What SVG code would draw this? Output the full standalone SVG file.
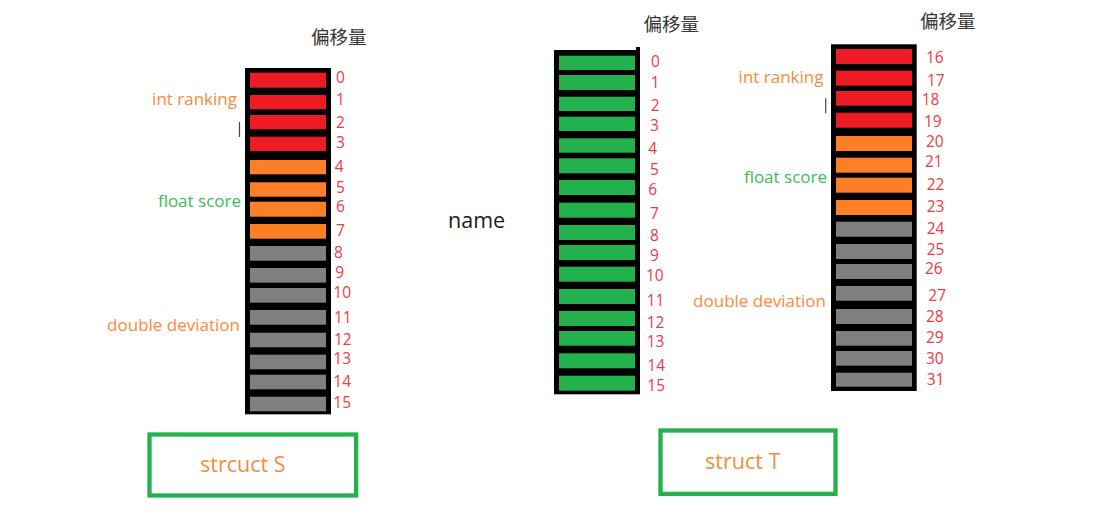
<svg xmlns="http://www.w3.org/2000/svg" width="1112" height="515" viewBox="0 0 1112 515">
<style>
.frame{fill:#000}
.red{fill:#ed1c24}
.org{fill:#ff7f27}
.gry{fill:#7f7f7f}
.grn{fill:#22b14c}
.num{font-family:"Open Sans","Liberation Sans",sans-serif;font-size:15.5px;fill:#ee3a43}
.cap{font-family:"Noto Sans CJK SC","Noto Sans",sans-serif;font-size:18.5px;fill:#333}
.lo{font-family:"Open Sans","Liberation Sans",sans-serif;font-size:17px;fill:#fb8a3c;text-anchor:end}
.lg{font-family:"Open Sans","Liberation Sans",sans-serif;font-size:17px;fill:#3dba5c;text-anchor:end}
.box{fill:#fff;stroke:#22b14c;stroke-width:4.3}
.bt{font-family:"Open Sans","Liberation Sans",sans-serif;font-size:21.5px;fill:#fb8a3c}
.tick{stroke:#444;stroke-width:1.2}
</style>
<rect width="1112" height="515" fill="#fff"/>
<g id="connectors"></g>

<g id="structS-column">
<rect class="frame" x="245" y="68" width="86" height="346.3"/>
<rect class="red" x="250" y="72.7" width="76" height="15"/>
<rect class="red" x="250" y="95" width="76" height="14.3"/>
<rect class="red" x="250" y="115" width="76" height="14.3"/>
<rect class="red" x="250" y="136.7" width="76" height="14.3"/>
<rect class="org" x="250" y="160" width="76" height="14.3"/>
<rect class="org" x="250" y="182.3" width="76" height="14.4"/>
<rect class="org" x="250" y="201.7" width="76" height="15"/>
<rect class="org" x="250" y="224" width="76" height="14.7"/>
<rect class="gry" x="250" y="246" width="76" height="14.7"/>
<rect class="gry" x="250" y="268" width="76" height="14.7"/>
<rect class="gry" x="250" y="288" width="76" height="14.7"/>
<rect class="gry" x="250" y="310" width="76" height="14.7"/>
<rect class="gry" x="250" y="332.7" width="76" height="14.6"/>
<rect class="gry" x="250" y="354.7" width="76" height="14.6"/>
<rect class="gry" x="250" y="374.7" width="76" height="14.6"/>
<rect class="gry" x="250" y="396.7" width="76" height="14.6"/>
</g>
<g id="structS-offsets">
<text class="cap" x="311" y="44">偏移量</text>
<text class="num" x="336" y="83.3">0</text>
<text class="num" x="336" y="105">1</text>
<text class="num" x="336" y="128.3">2</text>
<text class="num" x="336" y="148.3">3</text>
<text class="num" x="334.7" y="171.7">4</text>
<text class="num" x="336" y="193.3">5</text>
<text class="num" x="336" y="211.7">6</text>
<text class="num" x="336" y="236">7</text>
<text class="num" x="334" y="258.3">8</text>
<text class="num" x="335.3" y="278.3">9</text>
<text class="num" x="333.3" y="298.3">10</text>
<text class="num" x="334" y="322.7">11</text>
<text class="num" x="334" y="345">12</text>
<text class="num" x="333.3" y="364">13</text>
<text class="num" x="333.3" y="387.3">14</text>
<text class="num" x="333.3" y="408.3">15</text>
</g>
<g id="structS-labels">
<text class="lo" x="237" y="105">int ranking</text>
<line class="tick" x1="239.5" y1="122" x2="239.5" y2="137"/>
<text class="lg" x="241" y="207">float score</text>
<text class="lo" x="240" y="331">double deviation</text>
</g>
<g id="structS-box">
<rect class="box" x="149.5" y="434.5" width="206.6" height="61"/>
<text class="bt" x="200" y="471.7">strcuct S</text>
</g>

<g id="name-column">
<rect class="frame" x="554" y="50" width="86" height="344.3"/>
<rect class="frame" x="636" y="47" width="4" height="5"/>
<rect class="grn" x="559" y="55.7" width="76" height="14.3"/>
<rect class="grn" x="559" y="75" width="76" height="15"/>
<rect class="grn" x="559" y="96.7" width="76" height="14.3"/>
<rect class="grn" x="559" y="116.7" width="76" height="14.3"/>
<rect class="grn" x="559" y="138.3" width="76" height="14.4"/>
<rect class="grn" x="559" y="158.3" width="76" height="15"/>
<rect class="grn" x="559" y="180" width="76" height="15"/>
<rect class="grn" x="559" y="202.7" width="76" height="15"/>
<rect class="grn" x="559" y="225" width="76" height="15"/>
<rect class="grn" x="559" y="245" width="76" height="15"/>
<rect class="grn" x="559" y="266.7" width="76" height="15"/>
<rect class="grn" x="559" y="289" width="76" height="15"/>
<rect class="grn" x="559" y="311" width="76" height="15"/>
<rect class="grn" x="559" y="331" width="76" height="14.7"/>
<rect class="grn" x="559" y="353.3" width="76" height="15"/>
<rect class="grn" x="559" y="375.7" width="76" height="15"/>
</g>
<g id="name-offsets">
<text class="cap" x="643.5" y="31">偏移量</text>
<text class="num" x="651" y="66.7">0</text>
<text class="num" x="650.7" y="88.3">1</text>
<text class="num" x="650.7" y="110.7">2</text>
<text class="num" x="650" y="130.7">3</text>
<text class="num" x="648.3" y="154">4</text>
<text class="num" x="650" y="175">5</text>
<text class="num" x="648.3" y="195">6</text>
<text class="num" x="650" y="219.3">7</text>
<text class="num" x="650" y="240.7">8</text>
<text class="num" x="650" y="261">9</text>
<text class="num" x="646" y="281">10</text>
<text class="num" x="646.7" y="306">11</text>
<text class="num" x="646.7" y="328.3">12</text>
<text class="num" x="646.7" y="347.3">13</text>
<text class="num" x="647.3" y="370.7">14</text>
<text class="num" x="647.3" y="390.7">15</text>
</g>
<g id="name-label">
<text x="448" y="228.3" style="font-family:'Open Sans','Liberation Sans',sans-serif;font-size:21.5px;fill:#1a1a1a">name</text>
</g>

<g id="structT-column">
<rect class="frame" x="831" y="44.3" width="85.7" height="346.7"/>
<rect class="red" x="836" y="49" width="76" height="15"/>
<rect class="red" x="836" y="70.7" width="76" height="15"/>
<rect class="red" x="836" y="91" width="76" height="14.7"/>
<rect class="red" x="836" y="112.7" width="76" height="15"/>
<rect class="org" x="836" y="136" width="76" height="15"/>
<rect class="org" x="836" y="157.7" width="76" height="15"/>
<rect class="org" x="836" y="177.7" width="76" height="15"/>
<rect class="org" x="836" y="200" width="76" height="15"/>
<rect class="gry" x="836" y="221.7" width="76" height="15"/>
<rect class="gry" x="836" y="244" width="76" height="15"/>
<rect class="gry" x="836" y="264" width="76" height="15"/>
<rect class="gry" x="836" y="286" width="76" height="14.7"/>
<rect class="gry" x="836" y="309" width="76" height="15"/>
<rect class="gry" x="836" y="331" width="76" height="14.7"/>
<rect class="gry" x="836" y="351" width="76" height="14.7"/>
<rect class="gry" x="836" y="372.7" width="76" height="14"/>
</g>
<g id="structT-offsets">
<text class="cap" x="920" y="28">偏移量</text>
<text class="num" x="926" y="63.3">16</text>
<text class="num" x="927" y="85.7">17</text>
<text class="num" x="921.7" y="105">18</text>
<text class="num" x="924" y="127.3">19</text>
<text class="num" x="926" y="147.3">20</text>
<text class="num" x="925" y="167.3">21</text>
<text class="num" x="926.7" y="190">22</text>
<text class="num" x="926.7" y="211.7">23</text>
<text class="num" x="926.7" y="234.3">24</text>
<text class="num" x="926.7" y="255">25</text>
<text class="num" x="925" y="274">26</text>
<text class="num" x="928.3" y="300.7">27</text>
<text class="num" x="926" y="322.3">28</text>
<text class="num" x="926" y="343.3">29</text>
<text class="num" x="926" y="364">30</text>
<text class="num" x="926.7" y="385">31</text>
</g>
<g id="structT-labels">
<text class="lo" x="823.5" y="83">int ranking</text>
<line class="tick" x1="825.7" y1="98.3" x2="825.7" y2="113.3"/>
<text class="lg" x="827" y="183">float score</text>
<text class="lo" x="826" y="307">double deviation</text>
</g>
<g id="structT-box">
<rect class="box" x="660.5" y="430.5" width="175" height="63.4"/>
<text class="bt" x="705" y="469.3">struct T</text>
</g>
</svg>
